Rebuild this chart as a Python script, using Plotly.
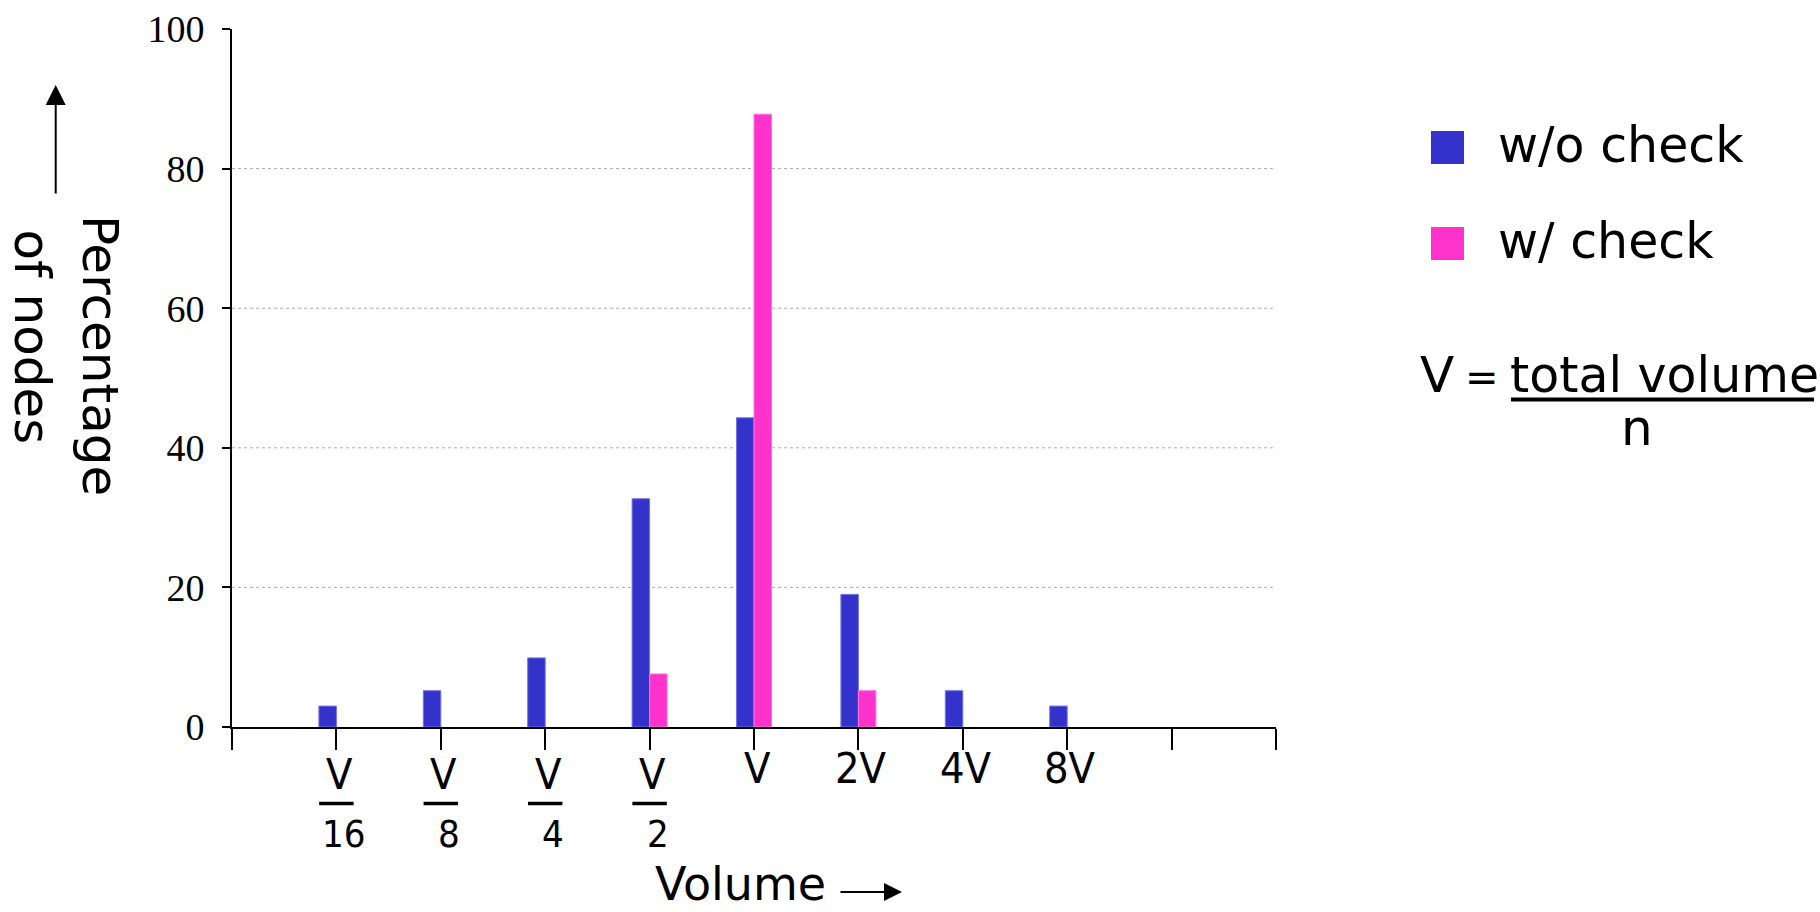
import plotly.graph_objects as go

# ---------------- data ----------------
categories = ["V/16", "V/8", "V/4", "V/2", "V", "2V", "4V", "8V"]
numerators = ["V", "V", "V", "V", "V", "2V", "4V", "8V"]
denominators = ["16", "8", "4", "2", "", "", "", ""]
wo_check = [3.0, 5.2, 9.9, 32.7, 44.3, 19.0, 5.2, 3.0]
w_check = [None, None, None, 7.6, 87.8, 5.2, None, None]
y_ticks = [0, 20, 40, 60, 80, 100]
grid_vals = [20, 40, 60, 80]
series_names = ["w/o check", "w/ check"]
series_colors = ["#3333CC", "#FF33CC"]
edge_colors = ["#7373E6", "#FF73E0"]
y_title_lines = ["Percentage", "of nodes"]

positions = list(range(1, len(categories) + 1))
n_slots = 10  # axis spans ten category slots

# ---------------- geometry (page pixels) ----------------
PAGE_W, PAGE_H = 1820, 912
L, R, T, B = 232, 1276, 29, 727  # plot area in page pixels


def px(x):
    return (x - L) / (R - L)


def py(y):
    return (B - y) / (B - T)


fig = go.Figure()
for name, vals, col, ecol in zip(series_names, [wo_check, w_check], series_colors, edge_colors):
    fig.add_trace(go.Bar(
        x=positions, y=vals, name=name,
        marker=dict(color=col, line=dict(color=ecol, width=1)),
        customdata=categories,
        hovertemplate="%{customdata}: %{y}<extra>" + name + "</extra>",
    ))

tickvals = list(range(0, n_slots + 1))

fig.update_layout(
    width=PAGE_W, height=PAGE_H,
    margin=dict(l=L, r=PAGE_W - R, t=T, b=PAGE_H - B, pad=0),
    paper_bgcolor="white", plot_bgcolor="white",
    barmode="group", bargap=0.665, bargroupgap=0,
    showlegend=False,
    font=dict(family="DejaVu Sans", color="black"),
    xaxis=dict(
        range=[0, n_slots], tickmode="array", tickvals=tickvals, showticklabels=False,
        ticks="outside", ticklen=21, tickwidth=2, tickcolor="black",
        showline=True, linecolor="black", linewidth=2,
        showgrid=False, zeroline=False, automargin=False,
    ),
    yaxis=dict(
        range=[0, 100], tickmode="array", tickvals=y_ticks,
        ticks="outside", ticklen=8, tickwidth=2, tickcolor="black",
        showline=True, linecolor="black", linewidth=2,
        showgrid=False, zeroline=False, automargin=False,
        tickfont=dict(family="Liberation Serif", size=38, color="black"),
        ticklabelstandoff=10,
    ),
)

shapes = []
for g in grid_vals:
    shapes.append(dict(type="line", xref="paper", yref="y", x0=0, x1=0.997, y0=g, y1=g,
                       line=dict(color="#ABABAB", width=1, dash="dot"), layer="below"))

annotations = []
tick_font = dict(family="DejaVu Sans Condensed, DejaVu Sans", size=43, color="black")
# category labels (numerator / fraction bar / denominator)
for pos, num, den in zip(positions, numerators, denominators):
    annotations.append(dict(x=pos, y=py(774 if den else 768), xref="x", yref="paper", text=num,
                            showarrow=False, xanchor="center", yanchor="middle", xshift=3,
                            font=tick_font))
    if den:
        shapes.append(dict(type="line", xref="x", yref="paper", x0=pos - 0.165, x1=pos + 0.165,
                           y0=py(803.5), y1=py(803.5), line=dict(color="black", width=3.5)))
        annotations.append(dict(x=pos, y=py(834), xref="x", yref="paper", text=den, showarrow=False,
                                xanchor="center", yanchor="middle", xshift=8,
                                font=dict(family="DejaVu Sans Condensed, DejaVu Sans", size=38)))

# x title with arrow
annotations.append(dict(x=px(653), y=py(884), xref="paper", yref="paper", text="Volume",
                        showarrow=False, xanchor="left", yanchor="middle",
                        font=dict(family="DejaVu Sans", size=46)))
annotations.append(dict(x=px(902), y=py(892), xref="paper", yref="paper", text="",
                        showarrow=True, arrowhead=2, arrowsize=1.8, arrowwidth=2, arrowcolor="black",
                        ax=-63, ay=0, standoff=0))
# y title (two rotated lines) with arrow
for line_text, cx, cy in zip(y_title_lines, [100, 31.5], [355, 337]):
    annotations.append(dict(x=px(cx), y=py(cy), xref="paper", yref="paper",
                            text=line_text, showarrow=False, textangle=90,
                            xanchor="center", yanchor="middle",
                            font=dict(family="DejaVu Sans", size=50)))
annotations.append(dict(x=px(55.7), y=py(85), xref="paper", yref="paper", text="",
                        showarrow=True, arrowhead=2, arrowsize=2, arrowwidth=2, arrowcolor="black",
                        ax=0, ay=110, standoff=0))

# manual legend
legend_y = [147.5, 243.5]
for name, col, yc in zip(series_names, series_colors, legend_y):
    shapes.append(dict(type="rect", xref="paper", yref="paper", x0=px(1431), x1=px(1464),
                       y0=py(yc + 16.5), y1=py(yc - 16.5), fillcolor=col, line=dict(width=0)))
    annotations.append(dict(x=px(1496), y=py(yc - 2), xref="paper", yref="paper", text=name,
                            showarrow=False, xanchor="left", yanchor="middle",
                            font=dict(family="DejaVu Sans", size=49)))

# formula V = total volume / n
annotations.append(dict(x=px(1418), y=py(375), xref="paper", yref="paper", text="V",
                        showarrow=False, xanchor="left", yanchor="middle",
                        font=dict(family="DejaVu Sans", size=50)))
annotations.append(dict(x=px(1482), y=py(377), xref="paper", yref="paper", text="=",
                        showarrow=False, xanchor="center", yanchor="middle",
                        font=dict(family="DejaVu Sans", size=40)))
annotations.append(dict(x=px(1664), y=py(375), xref="paper", yref="paper", text="total volume",
                        showarrow=False, xanchor="center", yanchor="middle",
                        font=dict(family="DejaVu Sans", size=49)))
shapes.append(dict(type="line", xref="paper", yref="paper", x0=px(1511), x1=px(1814),
                   y0=py(399.5), y1=py(399.5), line=dict(color="black", width=4)))
annotations.append(dict(x=px(1637), y=py(428), xref="paper", yref="paper", text="n",
                        showarrow=False, xanchor="center", yanchor="middle",
                        font=dict(family="DejaVu Sans", size=50)))

fig.update_layout(shapes=shapes, annotations=annotations)

fig.write_html("out.html",
               config={"displayModeBar": False},
               post_script="document.body.style.margin='0';document.body.style.overflow='hidden';")
